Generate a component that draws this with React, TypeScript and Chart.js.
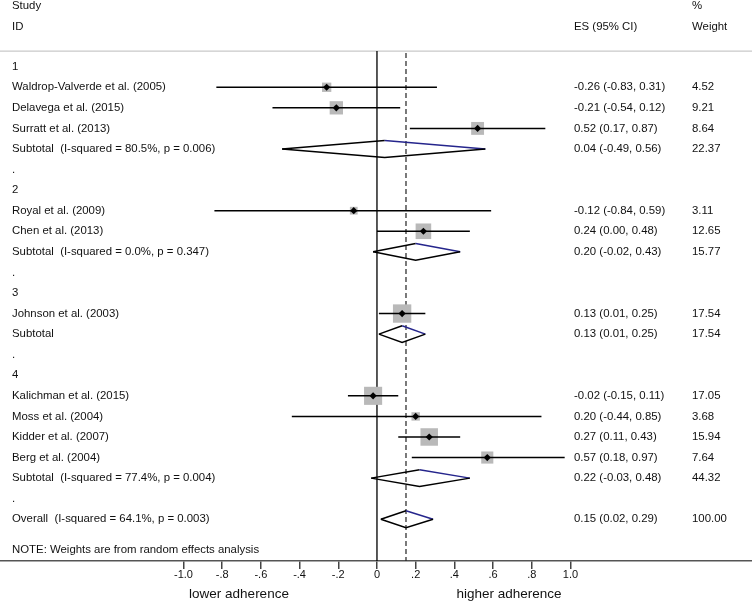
import React, { useEffect, useRef } from "react";
import { Chart, registerables } from "chart.js";

Chart.register(...registerables);

// ---------- data ----------
const GROUP_LABELS = ["1", "2", "3", "4"];
const GROUP_ROWS = [0, 6, 11, 15];
const DOT_ROWS = [5, 10, 14, 21];

const STUDY_LABELS = [
  "Waldrop-Valverde et al. (2005)",
  "Delavega et al. (2015)",
  "Surratt et al. (2013)",
  "Royal et al. (2009)",
  "Chen et al. (2013)",
  "Johnson et al. (2003)",
  "Kalichman et al. (2015)",
  "Moss et al. (2004)",
  "Kidder et al. (2007)",
  "Berg et al. (2004)",
];
const STUDY_ROWS = [1, 2, 3, 7, 8, 12, 16, 17, 18, 19];
const STUDY_ES = [-0.26, -0.21, 0.52, -0.12, 0.24, 0.13, -0.02, 0.2, 0.27, 0.57];
const STUDY_LO = [-0.83, -0.54, 0.17, -0.84, 0.0, 0.01, -0.15, -0.44, 0.11, 0.18];
const STUDY_HI = [0.31, 0.12, 0.87, 0.59, 0.48, 0.25, 0.11, 0.85, 0.43, 0.97];
const STUDY_WEIGHT = [4.52, 9.21, 8.64, 3.11, 12.65, 17.54, 17.05, 3.68, 15.94, 7.64];

const POOLED_LABELS = [
  "Subtotal  (I-squared = 80.5%, p = 0.006)",
  "Subtotal  (I-squared = 0.0%, p = 0.347)",
  "Subtotal",
  "Subtotal  (I-squared = 77.4%, p = 0.004)",
  "Overall  (I-squared = 64.1%, p = 0.003)",
];
const POOLED_ROWS = [4, 9, 13, 20, 22];
const POOLED_ES = [0.04, 0.2, 0.13, 0.22, 0.15];
const POOLED_LO = [-0.49, -0.02, 0.01, -0.03, 0.02];
const POOLED_HI = [0.56, 0.43, 0.25, 0.48, 0.29];
const POOLED_WEIGHT = [22.37, 15.77, 17.54, 44.32, 100.0];

const OVERALL_ES = POOLED_ES[POOLED_ES.length - 1];

const X_TICKS = [-1, -0.8, -0.6, -0.4, -0.2, 0, 0.2, 0.4, 0.6, 0.8, 1];
const X_TICK_LABELS = ["-1.0", "-.8", "-.6", "-.4", "-.2", "0", ".2", ".4", ".6", ".8", "1.0"];

const HEADER_LEFT = ["Study", "ID"];
const HEADER_ES = "ES (95% CI)";
const HEADER_WEIGHT = ["%", "Weight"];
const NOTE = "NOTE: Weights are from random effects analysis";
const AXIS_TITLES = ["lower adherence", "higher adherence"];

// ---------- layout / style ----------
const W = 752;
const H = 605;
const FONT = '"Liberation Sans", Arial, Helvetica, sans-serif';
const TEXT_SIZE = 11.4;
const X_MIN = -1.948;
const X_MAX = 1.938;
const Y_MIN = -3.242;
const Y_MAX = 24.029;
const HEADER_LINE_ROW = -0.76;
const BOX_K = 3.1;
const DIAMOND_HALF = 0.41;
const NAVY = "#25258c";

const fmt = (v: number) => v.toFixed(2);

export default function App() {
  const ref = useRef<HTMLCanvasElement | null>(null);

  useEffect(() => {
    const canvas = ref.current;
    if (!canvas) return;

    const datasets: any[] = [];

    // center markers (top-most)
    datasets.push({
      data: STUDY_ES.map((v, i) => ({ x: v, y: STUDY_ROWS[i] })),
      pointStyle: "rectRot",
      pointRadius: 3.6,
      backgroundColor: "#000",
      borderColor: "#000",
      borderWidth: 0,
      order: 0,
    });

    // CI lines
    STUDY_ES.forEach((_, i) => {
      datasets.push({
        data: [
          { x: STUDY_LO[i], y: STUDY_ROWS[i] },
          { x: STUDY_HI[i], y: STUDY_ROWS[i] },
        ],
        showLine: true,
        borderColor: "#000",
        borderWidth: 1.5,
        pointRadius: 0,
        order: 1,
      });
    });

    // pooled diamonds
    POOLED_ES.forEach((es, i) => {
      const r = POOLED_ROWS[i];
      datasets.push({
        data: [
          { x: POOLED_LO[i], y: r },
          { x: es, y: r - DIAMOND_HALF },
          { x: POOLED_HI[i], y: r },
          { x: es, y: r + DIAMOND_HALF },
          { x: POOLED_LO[i], y: r },
        ],
        showLine: true,
        borderColor: "#000",
        borderWidth: 1.5,
        pointRadius: 0,
        fill: false,
        segment: {
          borderColor: (ctx: any) => (ctx.p0DataIndex === 1 ? NAVY : "#000"),
        },
        order: 1,
      });
    });

    // weight boxes
    datasets.push({
      data: STUDY_ES.map((v, i) => ({ x: v, y: STUDY_ROWS[i] })),
      pointStyle: "rect",
      pointRadius: (ctx: any) => BOX_K * Math.sqrt(STUDY_WEIGHT[ctx.dataIndex] ?? 0),
      backgroundColor: "#b9b9b9",
      borderWidth: 0,
      order: 2,
    });

    // null line and overall dashed line
    datasets.push({
      data: [
        { x: 0, y: HEADER_LINE_ROW },
        { x: 0, y: Y_MAX },
      ],
      showLine: true,
      borderColor: "#000",
      borderWidth: 1.3,
      pointRadius: 0,
      order: 3,
    });
    datasets.push({
      data: [
        { x: OVERALL_ES, y: HEADER_LINE_ROW + 0.1 },
        { x: OVERALL_ES, y: Y_MAX },
      ],
      showLine: true,
      borderColor: "#222",
      borderWidth: 1.2,
      borderDash: [5, 3],
      pointRadius: 0,
      order: 3,
    });

    const textPlugin = {
      id: "forestText",
      beforeDatasetsDraw(chart: any) {
        const { ctx, chartArea } = chart;
        const ys = chart.scales.y;
        const y = ys.getPixelForValue(HEADER_LINE_ROW);
        ctx.save();
        ctx.strokeStyle = "#c9c9c9";
        ctx.lineWidth = 1.2;
        ctx.beginPath();
        ctx.moveTo(chartArea.left, y);
        ctx.lineTo(chartArea.right, y);
        ctx.stroke();
        ctx.restore();
      },
      afterDraw(chart: any) {
        const { ctx } = chart;
        const ys = chart.scales.y;
        const xs = chart.scales.x;
        const py = (r: number) => ys.getPixelForValue(r);
        ctx.save();
        ctx.fillStyle = "#111";
        ctx.textBaseline = "middle";
        ctx.textAlign = "left";
        ctx.font = `${TEXT_SIZE}px ${FONT}`;
        const LX = 12;
        const ESX = 574;
        const WX = 692;

        ctx.fillText(HEADER_LEFT[0], LX, py(-2.95));
        ctx.fillText(HEADER_LEFT[1], LX, py(-1.95));
        ctx.fillText(HEADER_ES, ESX, py(-1.95));
        ctx.fillText(HEADER_WEIGHT[0], WX, py(-2.95));
        ctx.fillText(HEADER_WEIGHT[1], WX, py(-1.95));

        GROUP_LABELS.forEach((g, i) => ctx.fillText(g, LX, py(GROUP_ROWS[i])));
        DOT_ROWS.forEach((r) => ctx.fillText(".", LX, py(r)));

        STUDY_LABELS.forEach((s, i) => {
          const y = py(STUDY_ROWS[i]);
          ctx.fillText(s, LX, y);
          ctx.fillText(`${fmt(STUDY_ES[i])} (${fmt(STUDY_LO[i])}, ${fmt(STUDY_HI[i])})`, ESX, y);
          ctx.fillText(fmt(STUDY_WEIGHT[i]), WX, y);
        });
        POOLED_LABELS.forEach((s, i) => {
          const y = py(POOLED_ROWS[i]);
          ctx.fillText(s, LX, y);
          ctx.fillText(`${fmt(POOLED_ES[i])} (${fmt(POOLED_LO[i])}, ${fmt(POOLED_HI[i])})`, ESX, y);
          ctx.fillText(fmt(POOLED_WEIGHT[i]), WX, y);
        });

        ctx.fillText(NOTE, LX, py(23.49));

        ctx.font = `13.5px ${FONT}`;
        ctx.textAlign = "center";
        ctx.fillText(AXIS_TITLES[0], xs.getPixelForValue(-0.713), 594);
        ctx.fillText(AXIS_TITLES[1], xs.getPixelForValue(0.682), 594);
        ctx.restore();
      },
    };

    const chart = new Chart(canvas, {
      type: "scatter",
      data: { datasets },
      options: {
        animation: false,
        responsive: false,
        maintainAspectRatio: false,
        layout: { padding: 0, autoPadding: false },
        events: [],
        plugins: {
          legend: { display: false },
          tooltip: { enabled: false },
        },
        scales: {
          x: {
            type: "linear",
            min: X_MIN,
            max: X_MAX,
            afterBuildTicks: (axis: any) => {
              axis.ticks = X_TICKS.map((v) => ({ value: v }));
            },
            afterFit: (axis: any) => {
              axis.height = 44;
              axis.paddingLeft = 0;
              axis.paddingRight = 0;
            },
            ticks: {
              autoSkip: false,
              maxRotation: 0,
              minRotation: 0,
              padding: -1,
              color: "#111",
              font: { family: FONT, size: 11 },
              callback: (_v: any, i: number) => X_TICK_LABELS[i],
            },
            grid: {
              drawOnChartArea: false,
              drawTicks: true,
              tickLength: 8,
              color: "#444",
              lineWidth: 1.5,
            },
            border: { display: true, color: "#555", width: 1.5 },
          },
          y: {
            type: "linear",
            display: false,
            reverse: true,
            min: Y_MIN,
            max: Y_MAX,
          },
        },
      } as any,
      plugins: [textPlugin],
    });

    return () => chart.destroy();
  }, []);

  return (
    <div style={{ position: "absolute", left: 0, top: 0, width: W, height: H, background: "#fff" }}>
      <canvas ref={ref} width={W} height={H} style={{ display: "block", width: W, height: H }} />
    </div>
  );
}
